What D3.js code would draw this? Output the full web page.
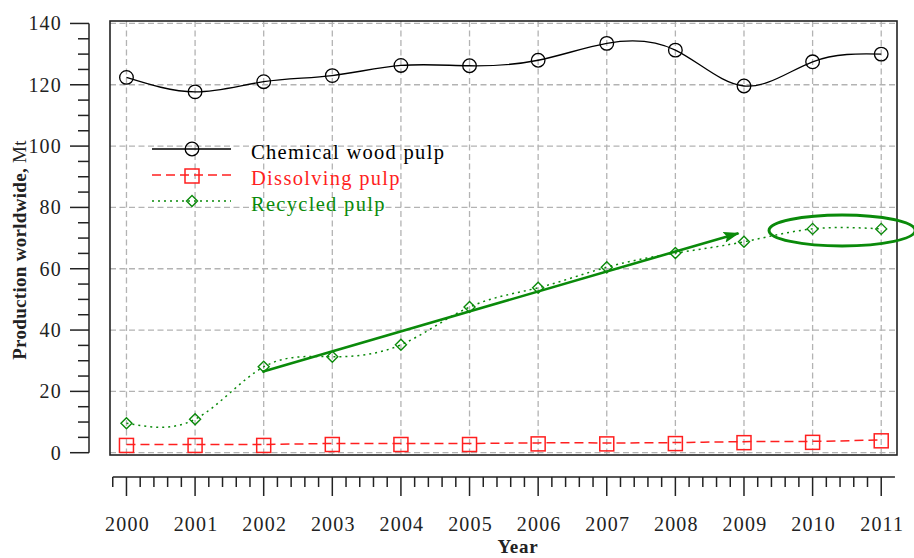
<!DOCTYPE html>
<html>
<head>
<meta charset="utf-8">
<script src="https://cdn.jsdelivr.net/npm/d3@7"></script>
<style>
  html, body { margin: 0; padding: 0; background: #fff; }
  svg { display: block; }
  text { font-family: "Liberation Serif", "Times New Roman", serif; }
</style>
</head>
<body>
<svg id="chart" width="914" height="558"></svg>
<script>
// Worldwide pulp production by grade, 2000-2011 (million tonnes)
const years = [2000, 2001, 2002, 2003, 2004, 2005, 2006, 2007, 2008, 2009, 2010, 2011];
const chemicalPulp   = [122.4, 117.7, 121.0, 123.0, 126.3, 126.2, 128.0, 133.5, 131.3, 119.6, 127.5, 130.0];
const dissolvingPulp = [2.7, 2.7, 2.7, 3.0, 3.0, 3.0, 3.2, 3.2, 3.3, 3.6, 3.7, 4.2];
const recycledPulp   = [9.6, 10.9, 28.0, 31.3, 35.2, 47.5, 53.8, 60.5, 65.1, 68.8, 73.0, 73.0];

const seriesNames = ["Chemical wood pulp", "Dissolving pulp", "Recycled pulp"];
const yTickValues = [0, 20, 40, 60, 80, 100, 120, 140];
const xTitle = "Year";
const yTitleBold = "Production worldwide,";
const yTitleUnit = "Mt";

// Trend annotations on the recycled pulp series (data coordinates)
const trendArrow = { from: [2001.98, 26.4], to: [2008.92, 71.6] };
const plateauRing = { cx: 2010.43, cy: 72.5, rx: 1.065, ry: 5.05 };

const svg = d3.select("#chart");

const x = d3.scaleLinear().domain([1999.76, 2011.23]).range([110, 897]);
const y = d3.scaleLinear().domain([-0.75, 140.8]).range([455, 21]);

const green = "#0a8a0a";
const red = "#ff1f1f";

const series = [
  { name: seriesNames[0], values: chemicalPulp,   color: "#000", dash: null,   width: 1.3, marker: "circle" },
  { name: seriesNames[1], values: dissolvingPulp, color: red,    dash: "9,5",  width: 1.5, marker: "square" },
  { name: seriesNames[2], values: recycledPulp,   color: green,  dash: "2,4",  width: 1.5, marker: "diamond" }
];

// ---- grid ----
const grid = svg.append("g").attr("stroke", "#b3b3b3").attr("stroke-width", 1.3).attr("stroke-dasharray", "6,3.5");
grid.selectAll("line.v").data(years).join("line")
  .attr("x1", d => x(d)).attr("x2", d => x(d))
  .attr("y1", y.range()[1]).attr("y2", y.range()[0]);
grid.selectAll("line.h").data(yTickValues).join("line")
  .attr("x1", x.range()[0]).attr("x2", x.range()[1])
  .attr("y1", d => y(d)).attr("y2", d => y(d));

// ---- series lines ----
const line = d3.line().x((d, i) => x(years[i])).y(d => y(d)).curve(d3.curveNatural);
series.forEach(s => {
  svg.append("path")
    .attr("d", line(s.values))
    .attr("fill", "none")
    .attr("stroke", s.color)
    .attr("stroke-width", s.width)
    .attr("stroke-dasharray", s.dash);
});

// ---- markers ----
function drawMarker(g, type, cx, cy, color) {
  if (type === "circle") {
    g.append("circle").attr("cx", cx).attr("cy", cy).attr("r", 6.8)
      .attr("fill", "none").attr("stroke", color).attr("stroke-width", 1.3);
  } else if (type === "square") {
    g.append("rect").attr("x", cx - 7).attr("y", cy - 6).attr("width", 14).attr("height", 14)
      .attr("fill", "none").attr("stroke", color).attr("stroke-width", 1.5);
  } else {
    const r = 5.5;
    g.append("path")
      .attr("d", `M${cx},${cy - r}L${cx + r},${cy}L${cx},${cy + r}L${cx - r},${cy}Z`)
      .attr("fill", "none").attr("stroke", color).attr("stroke-width", 1.4);
  }
}
const markers = svg.append("g");
series.forEach(s => {
  s.values.forEach((v, i) => drawMarker(markers, s.marker, x(years[i]), y(v), s.color));
});

// ---- plot frame ----
svg.append("rect")
  .attr("x", x.range()[0]).attr("y", y.range()[1])
  .attr("width", x.range()[1] - x.range()[0]).attr("height", y.range()[0] - y.range()[1])
  .attr("fill", "none").attr("stroke", "#222").attr("stroke-width", 1.6);

// ---- y axis (detached, to the left of the frame) ----
const yAxisX = 89;
const yAxis = svg.append("g").attr("stroke", "#222").attr("stroke-width", 1.5);
yAxis.append("line").attr("x1", yAxisX).attr("x2", yAxisX).attr("y1", y(0)).attr("y2", y(140));
yAxis.selectAll("line.minor").data(d3.range(0, 140.1, 5)).join("line")
  .attr("x1", yAxisX).attr("y1", d => y(d)).attr("y2", d => y(d))
  .attr("x2", d => d % 20 === 0 ? yAxisX - 19 : yAxisX - 11);
svg.append("g").selectAll("text").data(yTickValues).join("text")
  .attr("x", 62).attr("y", d => y(d)).attr("dy", "0.35em")
  .attr("text-anchor", "end").attr("font-size", 20).attr("letter-spacing", 1.2)
  .attr("fill", "#222").text(d => d);

// ---- x axis (detached, below the frame) ----
const xAxisY = 477;
const xAxis = svg.append("g").attr("stroke", "#222").attr("stroke-width", 1.5);
xAxis.append("line").attr("x1", x(1999.8)).attr("x2", x(2011.2)).attr("y1", xAxisY).attr("y2", xAxisY);
const xMinor = d3.range(0, 57).map(k => 1999.8 + k * 0.2);
xAxis.selectAll("line.tick").data(xMinor).join("line")
  .attr("x1", d => x(d)).attr("x2", d => x(d)).attr("y1", xAxisY)
  .attr("y2", d => Math.abs(d - Math.round(d)) < 1e-6 ? xAxisY + 19 : xAxisY + 10);
svg.append("g").selectAll("text").data(years).join("text")
  .attr("x", d => x(d) + 1).attr("y", 531)
  .attr("text-anchor", "middle").attr("font-size", 20).attr("letter-spacing", 1.2)
  .attr("fill", "#222").text(d => d);

// ---- axis titles ----
svg.append("text")
  .attr("x", 518).attr("y", 553).attr("text-anchor", "middle")
  .attr("font-size", 19).attr("font-weight", "bold").attr("letter-spacing", 0.8)
  .attr("fill", "#222").text(xTitle);
const yt = svg.append("text")
  .attr("transform", "translate(26,250) rotate(-90)")
  .attr("text-anchor", "middle").attr("font-size", 19).attr("letter-spacing", 0.3).attr("fill", "#222");
yt.append("tspan").attr("font-weight", "bold").text(yTitleBold);
yt.append("tspan").text(" " + yTitleUnit);

// ---- legend ----
const legend = svg.append("g");
series.forEach((s, i) => {
  const ly = 149 + i * 26;
  legend.append("line").attr("x1", 152).attr("x2", 231).attr("y1", ly).attr("y2", ly)
    .attr("stroke", s.color).attr("stroke-width", s.width).attr("stroke-dasharray", s.dash);
  drawMarker(legend, s.marker, 192, ly, s.color);
  legend.append("text").attr("x", 251).attr("y", ly + 10)
    .attr("font-size", 20.5).attr("letter-spacing", 1.3)
    .attr("fill", s.color).text(s.name);
});

// ---- annotations ----
svg.append("defs").append("marker")
  .attr("id", "arrowhead").attr("viewBox", "0 0 16 11")
  .attr("refX", 15).attr("refY", 5.5)
  .attr("markerWidth", 16).attr("markerHeight", 11).attr("markerUnits", "userSpaceOnUse")
  .attr("orient", "auto")
  .append("path").attr("d", "M0,0L16,5.5L0,11L3,5.5Z").attr("fill", green);
svg.append("line")
  .attr("x1", x(trendArrow.from[0])).attr("y1", y(trendArrow.from[1]))
  .attr("x2", x(trendArrow.to[0])).attr("y2", y(trendArrow.to[1]))
  .attr("stroke", green).attr("stroke-width", 2.6)
  .attr("marker-end", "url(#arrowhead)");
svg.append("ellipse")
  .attr("cx", x(plateauRing.cx)).attr("cy", y(plateauRing.cy))
  .attr("rx", x(plateauRing.cx + plateauRing.rx) - x(plateauRing.cx))
  .attr("ry", y(plateauRing.cy - plateauRing.ry) - y(plateauRing.cy))
  .attr("fill", "none").attr("stroke", green).attr("stroke-width", 3);
</script>
</body>
</html>
